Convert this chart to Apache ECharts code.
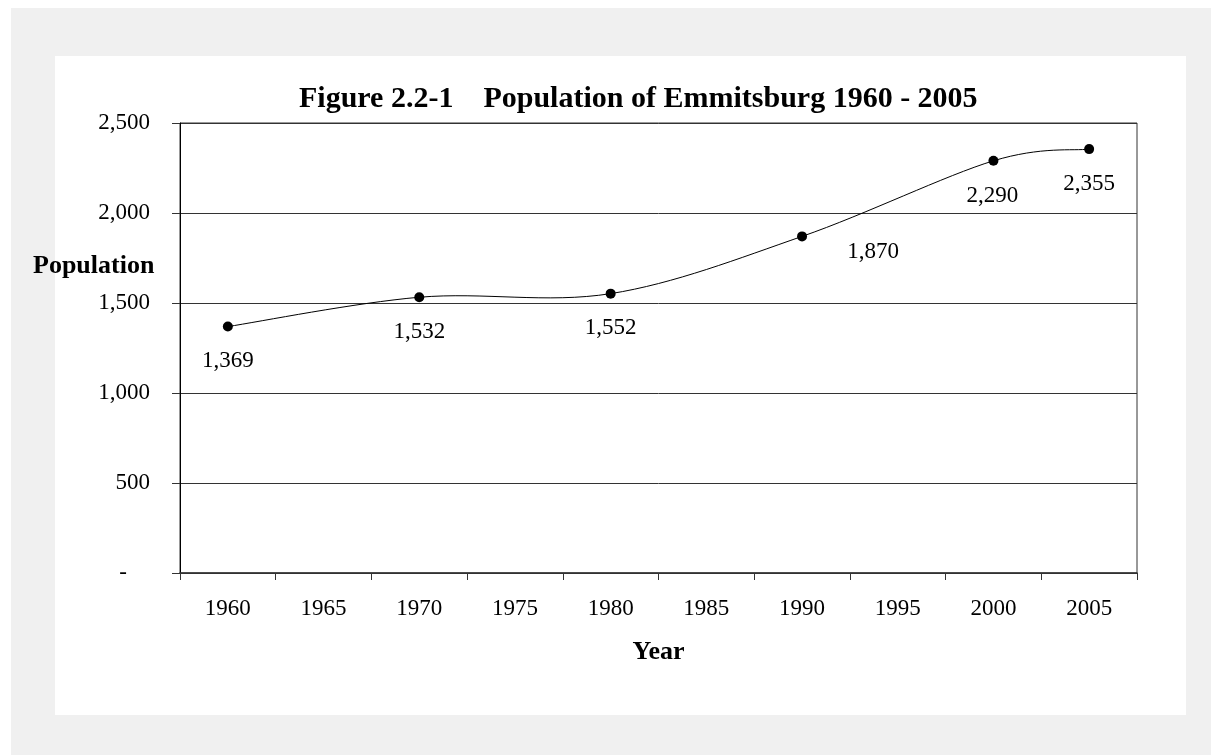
<!DOCTYPE html>
<html>
<head>
<meta charset="utf-8">
<script src="https://cdn.jsdelivr.net/npm/echarts@6/dist/echarts.min.js"></script>
<style>
  html, body { margin: 0; padding: 0; background: #ffffff; }
  #bg { position: absolute; left: 11px; top: 8px; width: 1200px; height: 747px; background: #f0f0f0; }
  #panel { position: absolute; left: 55px; top: 56px; width: 1131px; height: 659px; background: #ffffff; }
  #chart { position: absolute; left: 0; top: 0; width: 1211px; height: 755px; }
</style>
</head>
<body>
<div id="bg"></div>
<div id="panel"></div>
<div id="chart"></div>
<script>
// ---- data ----
var categories = ['1960', '1965', '1970', '1975', '1980', '1985', '1990', '1995', '2000', '2005'];
var years = ['1960', '1970', '1980', '1990', '2000', '2005'];
var population = [1369, 1532, 1552, 1870, 2290, 2355];
var yTicks = [0, 500, 1000, 1500, 2000, 2500];
var titleText = 'Figure 2.2-1    Population of Emmitsburg 1960 - 2005';

// ---- label placement (style only) ----
var labelOffsets = { '1990': [71, -19], '2000': [-1, 1] };

var FONT = "'Liberation Serif', 'Times New Roman', Times, serif";

// points placed on the category slots through a value axis spanning the same slots
var slot = years.map(function (y) { return categories.indexOf(y); });
var pointData = years.map(function (y, i) { return [slot[i], population[i]]; });
var markerData = years.map(function (y, i) {
  var item = { value: [slot[i], population[i]] };
  if (labelOffsets[y]) item.label = { offset: labelOffsets[y] };
  return item;
});

// smoothed connecting line (spreadsheet-style Bezier through the points)
function renderSegment(params, api) {
  var n = population.length;
  var i = params.dataIndex;
  if (i >= n - 1) return null;
  function P(k) {
    k = Math.max(0, Math.min(n - 1, k));
    return api.coord([slot[k], population[k]]);
  }
  var p0 = P(i - 1), p1 = P(i), p2 = P(i + 1), p3 = P(i + 2);
  return {
    type: 'bezierCurve',
    shape: {
      x1: p1[0], y1: p1[1], x2: p2[0], y2: p2[1],
      cpx1: p1[0] + (p2[0] - p0[0]) / 6, cpy1: p1[1] + (p2[1] - p0[1]) / 6,
      cpx2: p2[0] - (p3[0] - p1[0]) / 6, cpy2: p2[1] - (p3[1] - p1[1]) / 6
    },
    style: { stroke: '#000', lineWidth: 1, fill: 'none' }
  };
}

var chart = echarts.init(document.getElementById('chart'), null, { renderer: 'canvas' });
chart.setOption({
  animation: false,
  backgroundColor: 'transparent',
  title: {
    text: titleText,
    left: 294,
    top: 79,
    textStyle: { fontFamily: FONT, fontWeight: 'bold', fontSize: 30, color: '#000' }
  },
  graphic: [{
    type: 'text',
    left: 33,
    top: 253,
    style: { text: 'Population', font: "bold 26px 'Liberation Serif', 'Times New Roman', serif", fill: '#000' }
  }],
  grid: {
    left: 180, right: 74, top: 123, bottom: 182,
    show: true, borderColor: '#333', borderWidth: 1, backgroundColor: 'transparent'
  },
  xAxis: [{
    type: 'category',
    data: categories,
    boundaryGap: true,
    name: 'Year',
    nameLocation: 'middle',
    nameGap: 66,
    nameTextStyle: { fontFamily: FONT, fontWeight: 'bold', fontSize: 26, color: '#000' },
    axisLine: { show: true, lineStyle: { color: '#333', width: 1.5 } },
    axisTick: { show: true, inside: false, length: 7, alignWithLabel: false, lineStyle: { color: '#333', width: 1 } },
    axisLabel: { margin: 24, fontFamily: FONT, fontSize: 23, color: '#000', interval: 0 },
    splitLine: { show: false }
  }, {
    type: 'value',
    min: -0.5,
    max: categories.length - 0.5,
    show: false,
    position: 'bottom',
    axisLine: { show: false, onZero: false },
    splitLine: { show: false }
  }],
  yAxis: {
    type: 'value',
    min: yTicks[0],
    max: yTicks[yTicks.length - 1],
    interval: yTicks[1] - yTicks[0],
    axisLine: { show: true, onZero: false, lineStyle: { color: '#000', width: 1 } },
    axisTick: { show: true, inside: false, length: 8, lineStyle: { color: '#333', width: 1 } },
    axisLabel: {
      margin: 30, fontFamily: FONT, fontSize: 23, color: '#000',
      formatter: function (v) { return v === 0 ? '-    ' : v.toLocaleString('en-US'); }
    },
    splitLine: { show: true, lineStyle: { color: '#333', width: 1 } }
  },
  series: [{
    type: 'custom',
    xAxisIndex: 1,
    data: pointData,
    encode: { x: 0, y: 1 },
    renderItem: renderSegment,
    z: 2
  }, {
    type: 'scatter',
    xAxisIndex: 1,
    data: markerData,
    symbol: 'circle',
    symbolSize: 10,
    itemStyle: { color: '#000', opacity: 1 },
    z: 3,
    label: {
      show: true,
      position: 'bottom',
      distance: 18,
      fontFamily: FONT,
      fontSize: 23,
      color: '#000',
      formatter: function (p) { return Number(p.value[1]).toLocaleString('en-US'); }
    }
  }]
});
</script>
</body>
</html>
